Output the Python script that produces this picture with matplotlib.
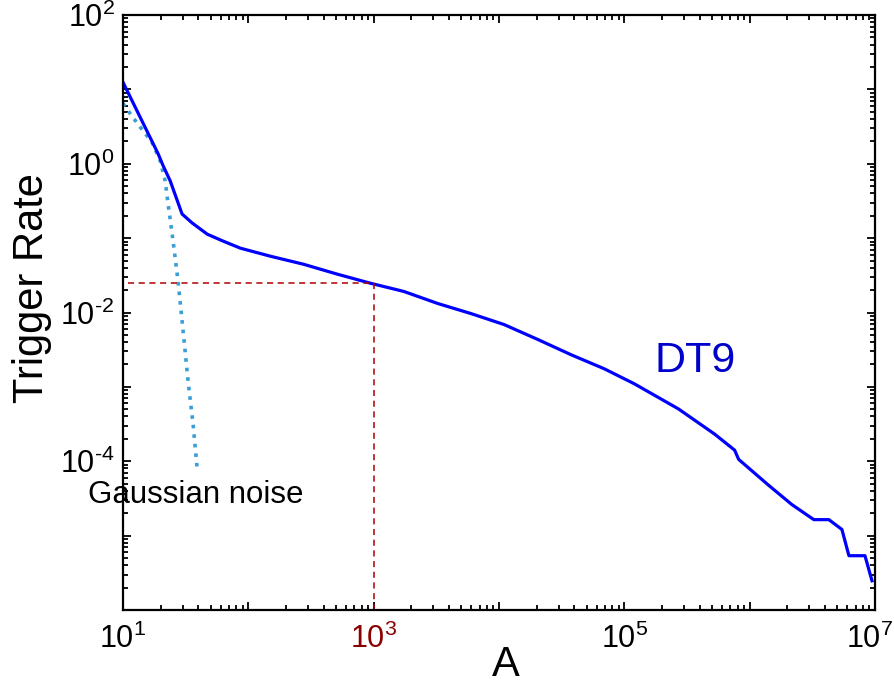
import matplotlib
matplotlib.use("Agg")
import matplotlib.pyplot as plt
import matplotlib.transforms as mtransforms
from matplotlib.ticker import LogLocator, FuncFormatter, NullFormatter
import numpy as np

plt.rcParams['font.family'] = ['Liberation Sans', 'DejaVu Sans']
plt.rcParams['mathtext.fontset'] = 'custom'
plt.rcParams['mathtext.rm'] = 'Liberation Sans'
plt.rcParams['mathtext.it'] = 'Liberation Sans'
plt.rcParams['mathtext.default'] = 'regular'

# DT9 trigger rate curve
dt9_A = [10, 19.05, 20.9, 23.8, 29.6, 35.6, 47.0, 63.1, 86.3, 150, 275, 515, 946,
         1738, 3251, 5970, 10965, 20510, 37670, 69180, 120200, 270400, 524800,
         758600, 816600, 1.419e6, 2.168e6, 3.251e6, 4.285e6, 5.445e6, 6.194e6,
         8.318e6, 9.462e6]
dt9_rate = [12.45, 1.365, 0.940, 0.589, 0.211, 0.160, 0.113, 0.0910, 0.0733, 0.0571,
            0.0446, 0.0327, 0.0247, 0.0192, 0.0132, 0.00968, 0.00689, 0.00432,
            0.00270, 0.00175, 0.00110, 5.05e-4, 2.32e-4, 1.41e-4, 1.06e-4, 4.74e-5,
            2.62e-5, 1.64e-5, 1.64e-5, 1.21e-5, 5.37e-6, 5.37e-6, 2.47e-6]

# Gaussian noise curve
gn_A = [10, 12.0, 17.1, 19.8, 21.7, 22.9, 25.1, 27.5, 30.2, 33.1, 36.3, 39.1]
gn_rate = [6.47, 4.19, 1.92, 1.10, 0.589, 0.288, 0.0910, 0.0262, 0.00553, 0.00117,
           3.06e-4, 7.8e-5]

# Threshold marker
thr_A = 1e3
thr_rate = 0.0247
thr_start = 11

W, H = 895, 685
fig = plt.figure(figsize=(W/100, H/100), dpi=100)
ax = fig.add_axes([123/W, 1-610/H, (875-123)/W, (610-15)/H])

ax.plot(gn_A, gn_rate, linestyle=':', color='#3a9fd6', lw=2.6)
ax.plot(dt9_A, dt9_rate, '-', color='#0000ff', lw=2.3)
ax.plot([thr_start, thr_A], [thr_rate, thr_rate], '--', color='#b00000', lw=1.1, dashes=(4, 3))
ax.plot([thr_A, thr_A], [thr_rate, 1e-6], '--', color='#b00000', lw=1.1, dashes=(4, 3))

ax.set_xscale('log')
ax.set_yscale('log')
ax.set_xlim(10, 1e7)
ax.set_ylim(1e-6, 1e2)

ax.xaxis.set_major_locator(LogLocator(base=10, numticks=20))
ax.yaxis.set_major_locator(LogLocator(base=10, numticks=20))
ax.xaxis.set_minor_locator(LogLocator(base=10, subs=np.arange(2, 10), numticks=200))
ax.yaxis.set_minor_locator(LogLocator(base=10, subs=np.arange(2, 10), numticks=200))
ax.xaxis.set_minor_formatter(NullFormatter())
ax.yaxis.set_minor_formatter(NullFormatter())

def sup(e):
    if e < 0:
        return r'10$^{\text{-}%d}$' % (-e)
    return r'10$^{%d}$' % e

def fx(v, pos):
    e = int(round(np.log10(v)))
    return sup(e) if e % 2 == 1 else ''

def fy(v, pos):
    e = int(round(np.log10(v)))
    return sup(e) if (e % 2 == 0 and e > -6) else ''

ax.xaxis.set_major_formatter(FuncFormatter(fx))
ax.yaxis.set_major_formatter(FuncFormatter(fy))

ax.tick_params(which='both', direction='in', top=True, right=True, width=1.3, labelsize=22)
ax.tick_params(which='major', length=6)
ax.tick_params(which='minor', length=3.5)
ax.tick_params(axis='x', pad=10)
ax.tick_params(axis='y', pad=6)
for s in ax.spines.values():
    s.set_linewidth(1.6)

fig.canvas.draw()
offset = mtransforms.ScaledTranslation(-5/100, 0, fig.dpi_scale_trans)
for lbl in ax.get_xticklabels():
    if lbl.get_text() == sup(3):
        lbl.set_color('#8b0000')
    if lbl.get_text() == sup(7):
        lbl.set_transform(lbl.get_transform() + offset)

ax.set_xlabel('A', fontsize=30)
ax.xaxis.set_label_coords((506-123)/752, -0.0588)
ax.set_ylabel('Trigger Rate', fontsize=30)
ax.yaxis.set_label_coords(-0.0944, (610-288)/595)

fig.text(655/W, 1-372/H, 'DT9', fontsize=31, color='#0000cc', ha='left', va='baseline')
fig.text(88/W, 1-503/H, 'Gaussian noise', fontsize=22.5, ha='left', va='baseline')

fig.savefig('out.png', dpi=100)
